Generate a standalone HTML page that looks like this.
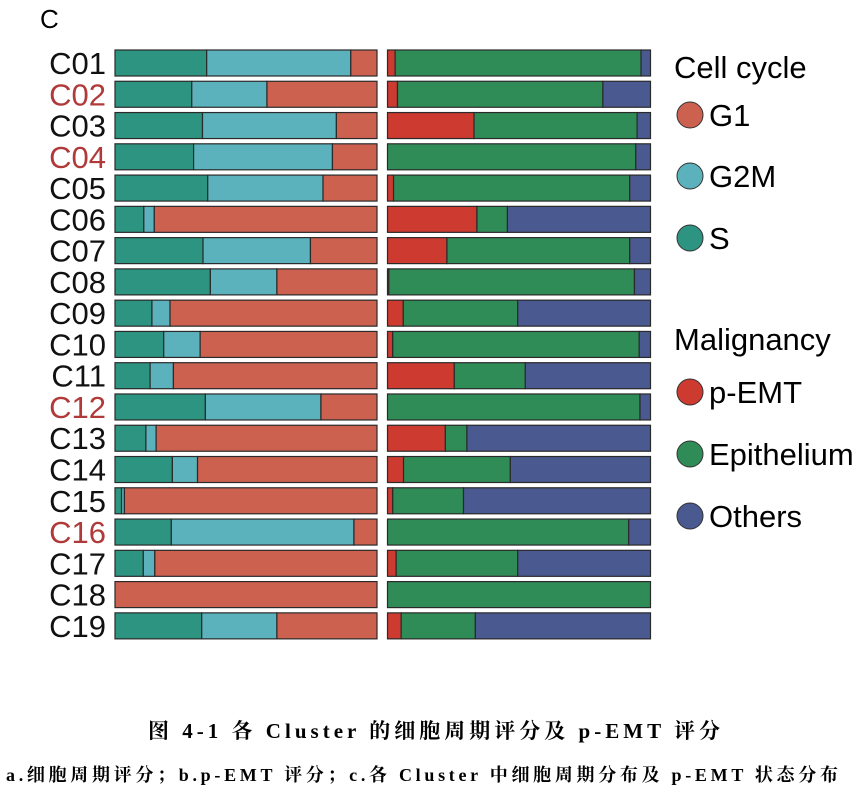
<!DOCTYPE html>
<html><head><meta charset="utf-8">
<style>
body{margin:0;background:#fff;width:866px;height:794px;overflow:hidden;}
svg{display:block;}
</style></head>
<body>
<svg id="chart" width="866" height="794" xmlns="http://www.w3.org/2000/svg" font-family="'Liberation Sans', sans-serif">
<text x="40" y="28" font-size="26">C</text>
<g id="rows"></g>
<g id="legend">
<text x="674" y="78" font-size="31">Cell cycle</text>
<circle cx="690" cy="115" r="13" fill="#cd6150" stroke="#333" stroke-width="1"/>
<text x="709" y="126" font-size="31">G1</text>
<circle cx="690" cy="176" r="13" fill="#5cb2bc" stroke="#333" stroke-width="1"/>
<text x="709" y="187" font-size="31">G2M</text>
<circle cx="690" cy="238" r="13" fill="#2c9480" stroke="#333" stroke-width="1"/>
<text x="709" y="249" font-size="31">S</text>
<text x="674" y="350" font-size="31">Malignancy</text>
<circle cx="690" cy="392" r="13" fill="#cc3a30" stroke="#333" stroke-width="1"/>
<text x="709" y="403" font-size="31">p-EMT</text>
<circle cx="690" cy="454" r="13" fill="#2f8c57" stroke="#333" stroke-width="1"/>
<text x="709" y="465" font-size="31">Epithelium</text>
<circle cx="690" cy="516" r="13" fill="#4a5990" stroke="#333" stroke-width="1"/>
<text x="709" y="527" font-size="31">Others</text>
</g>
<text x="148" y="738" font-size="21" font-weight="bold" textLength="572" lengthAdjust="spacing" font-family="'Liberation Serif','Noto Serif CJK SC',serif">图 4-1  各 Cluster 的细胞周期评分及 p-EMT 评分</text>
<text x="6" y="781" font-size="18" font-weight="bold" textLength="832" lengthAdjust="spacing" font-family="'Liberation Serif','Noto Serif CJK SC',serif">a.细胞周期评分；b.p-EMT 评分；c.各 Cluster 中细胞周期分布及 p-EMT 状态分布</text>
</svg>
<script>
const clusters=["C01","C02","C03","C04","C05","C06","C07","C08","C09","C10","C11","C12","C13","C14","C15","C16","C17","C18","C19"];
const highlighted=["C02","C04","C12","C16"];
const sFrac=[0.35,0.293,0.334,0.30,0.354,0.11,0.336,0.364,0.141,0.186,0.134,0.345,0.118,0.219,0.025,0.215,0.108,0,0.331];
const g2mFrac=[0.55,0.287,0.511,0.53,0.44,0.04,0.41,0.254,0.069,0.139,0.089,0.441,0.039,0.096,0.011,0.697,0.044,0,0.287];
const pemtFrac=[0.029,0.038,0.329,0,0.023,0.34,0.226,0.005,0.06,0.02,0.254,0,0.22,0.061,0.02,0,0.033,0,0.052];
const epiFrac=[0.935,0.781,0.62,0.944,0.898,0.116,0.695,0.934,0.435,0.937,0.27,0.96,0.082,0.406,0.269,0.917,0.462,1,0.282];
const NS="http://www.w3.org/2000/svg";
const g=document.getElementById("rows");
const rowY=i=>50+i*31.27, barH=26;
const L0=115,LW=262,R0=387.5,RW=263;
const xL=f=>L0+f*LW, xR=f=>R0+f*RW;
function rect(x,y,w,h,fill,name){
  const r=document.createElementNS(NS,"rect");
  r.setAttribute("x",x);r.setAttribute("y",y);r.setAttribute("width",Math.max(0,w));r.setAttribute("height",h);
  r.setAttribute("fill",fill);r.setAttribute("stroke","#2a2a2a");r.setAttribute("stroke-width","1.2");
  
  
  g.appendChild(r);
}
clusters.forEach((c,i)=>{
  const y=rowY(i);
  const t=document.createElementNS(NS,"text");
  t.setAttribute("x",106);t.setAttribute("y",y+24);t.setAttribute("text-anchor","end");
  t.setAttribute("font-size","31");
  t.setAttribute("fill",highlighted.includes(c)?"#b03a3a":"#111");
  t.textContent=c;
  
  
  g.appendChild(t);
  const s=sFrac[i],gm=g2mFrac[i];
  if(s>0)rect(xL(0),y,xL(s)-xL(0),barH,"#2c9480","bar-s");
  if(gm>0)rect(xL(s),y,xL(s+gm)-xL(s),barH,"#5cb2bc","bar-g2m");
  rect(xL(s+gm),y,xL(1)-xL(s+gm),barH,"#cd6150","bar-g1");
  const p=pemtFrac[i],e=epiFrac[i];
  if(p>0)rect(xR(0),y,xR(p)-xR(0),barH,"#cc3a30","bar-pemt");
  if(e>0)rect(xR(p),y,xR(p+e)-xR(p),barH,"#2f8c57","bar-epithelium");
  if(1-p-e>0.001)rect(xR(p+e),y,xR(1)-xR(p+e),barH,"#4a5990","bar-others");
});
</script>
</body></html>
